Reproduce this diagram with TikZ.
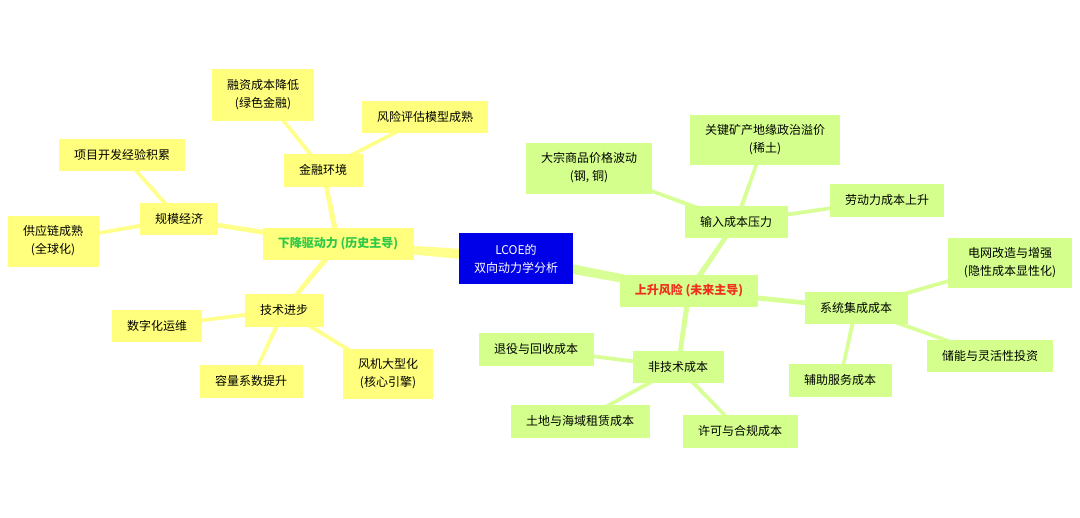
\documentclass[tikz,border=0pt]{standalone}
\usepackage{fontspec}
\setmainfont{Noto Sans CJK SC}
\usetikzlibrary{calc,backgrounds}
\definecolor{yfill}{RGB}{255,255,125}
\definecolor{yline}{RGB}{255,255,140}
\definecolor{gfill}{RGB}{212,255,140}
\definecolor{gline}{RGB}{215,255,150}
\definecolor{cblue}{RGB}{0,0,232}
\definecolor{tgreen}{RGB}{48,200,72}
\definecolor{tred}{RGB}{240,48,30}
\newcommand\taper[5]{\fill[#5] ($(#1)!#3!90:(#2)$) -- ($(#1)!#3!-90:(#2)$) -- ($(#2)!#4!90:(#1)$) -- ($(#2)!#4!-90:(#1)$) -- cycle;}
\tikzset{
  box/.style={inner sep=0pt, align=center, font=\fontsize{9}{13.5}\selectfont},
  ybox/.style={box, fill=yfill, text=black},
  gbox/.style={box, fill=gfill, text=black},
  cbox/.style={box, fill=cblue, text=white},
}
\begin{document}
\begin{tikzpicture}[x=0.75pt,y=-0.75pt]
\useasboundingbox (0,0) rectangle (1080,517);
% center
\node[cbox, minimum width=85.5pt, minimum height=38.25pt] (center) at (516,258.5) {LCOE的\\双向动力学分析};
% left
\node[ybox, minimum width=113.25pt, minimum height=24pt, text=tgreen, font=\fontsize{9}{13.5}\selectfont\bfseries] (down) at (338,244) {下降驱动力 (历史主导)};
\node[ybox, minimum width=58.5pt, minimum height=24pt] (guimo) at (179,219) {规模经济};
\node[ybox, minimum width=94.5pt, minimum height=24pt] (xiangmu) at (122,155) {项目开发经验积累};
\node[ybox, minimum width=68.25pt, minimum height=38.25pt] (gongying) at (53,241) {供应链成熟\\(全球化)};
\node[ybox, minimum width=59.25pt, minimum height=24.75pt] (jinrong) at (323,170) {金融环境};
\node[ybox, minimum width=76.5pt, minimum height=38.25pt] (rongzi) at (263,95) {融资成本降低\\(绿色金融)};
\node[ybox, minimum width=94.5pt, minimum height=24pt] (fengxian) at (425,117) {风险评估模型成熟};
\node[ybox, minimum width=59.25pt, minimum height=24.75pt] (jishu) at (284,310) {技术进步};
\node[ybox, minimum width=67.5pt, minimum height=24pt] (shuzi) at (157,326) {数字化运维};
\node[ybox, minimum width=77.25pt, minimum height=24.75pt] (rongliang) at (251,381) {容量系数提升};
\node[ybox, minimum width=67.5pt, minimum height=37.5pt] (fengji) at (388,374) {风机大型化\\(核心引擎)};
% right
\node[gbox, minimum width=103.5pt, minimum height=24pt, text=tred, font=\fontsize{9}{13.5}\selectfont\bfseries] (up) at (689,291) {上升风险 (未来主导)};
\node[gbox, minimum width=77.25pt, minimum height=24pt] (shuru) at (736,222) {输入成本压力};
\node[gbox, minimum width=94.5pt, minimum height=38.25pt] (dazong) at (589,168) {大宗商品价格波动\\(钢, 铜)};
\node[gbox, minimum width=112.5pt, minimum height=37.5pt] (guanjian) at (765,140) {关键矿产地缘政治溢价\\(稀土)};
\node[gbox, minimum width=85.5pt, minimum height=24.75pt] (laodong) at (887,200) {劳动力成本上升};
\node[gbox, minimum width=77.25pt, minimum height=24pt] (xitong) at (856,308) {系统集成成本};
\node[gbox, minimum width=93pt, minimum height=37.5pt] (dianwang) at (1010,263) {电网改造与增强\\(隐性成本显性化)};
\node[gbox, minimum width=94.5pt, minimum height=24pt] (chuneng) at (990,356) {储能与灵活性投资};
\node[gbox, minimum width=77.25pt, minimum height=24.75pt] (fuzhu) at (840,380) {辅助服务成本};
\node[gbox, minimum width=68.25pt, minimum height=24pt] (feijishu) at (678,367) {非技术成本};
\node[gbox, minimum width=86.25pt, minimum height=24.75pt] (tuiyi) at (536,349) {退役与回收成本};
\node[gbox, minimum width=104.25pt, minimum height=24.75pt] (tudi) at (580,421) {土地与海域租赁成本};
\node[gbox, minimum width=86.25pt, minimum height=24.75pt] (xuke) at (740,431) {许可与合规成本};
\begin{pgfonlayer}{background}
\fill[white] (0,0) rectangle (1080,517);
\taper{center}{down}{4.5pt}{2.3pt}{yline}
\taper{center}{up}{4pt}{2.6pt}{gline}
\taper{down}{guimo}{2.1pt}{1.6pt}{yline}
\taper{down}{jinrong}{2.1pt}{1.6pt}{yline}
\taper{down}{jishu}{2.1pt}{1.6pt}{yline}
\taper{guimo}{xiangmu}{1.6pt}{1.2pt}{yline}
\taper{guimo}{gongying}{1.6pt}{1.2pt}{yline}
\taper{jinrong}{rongzi}{1.6pt}{1.2pt}{yline}
\taper{jinrong}{fengxian}{1.6pt}{1.2pt}{yline}
\taper{jishu}{shuzi}{1.6pt}{1.2pt}{yline}
\taper{jishu}{rongliang}{1.6pt}{1.2pt}{yline}
\taper{jishu}{fengji}{1.6pt}{1.2pt}{yline}
\taper{up}{shuru}{2.1pt}{1.6pt}{gline}
\taper{up}{xitong}{2.1pt}{1.6pt}{gline}
\taper{up}{feijishu}{2.1pt}{1.6pt}{gline}
\taper{shuru}{dazong}{1.6pt}{1.2pt}{gline}
\taper{shuru}{guanjian}{1.6pt}{1.2pt}{gline}
\taper{shuru}{laodong}{1.6pt}{1.2pt}{gline}
\taper{xitong}{dianwang}{1.6pt}{1.2pt}{gline}
\taper{xitong}{chuneng}{1.6pt}{1.2pt}{gline}
\taper{xitong}{fuzhu}{1.6pt}{1.2pt}{gline}
\taper{feijishu}{tuiyi}{1.6pt}{1.2pt}{gline}
\taper{feijishu}{tudi}{1.6pt}{1.2pt}{gline}
\taper{feijishu}{xuke}{1.6pt}{1.2pt}{gline}
\end{pgfonlayer}
\end{tikzpicture}
\end{document}
